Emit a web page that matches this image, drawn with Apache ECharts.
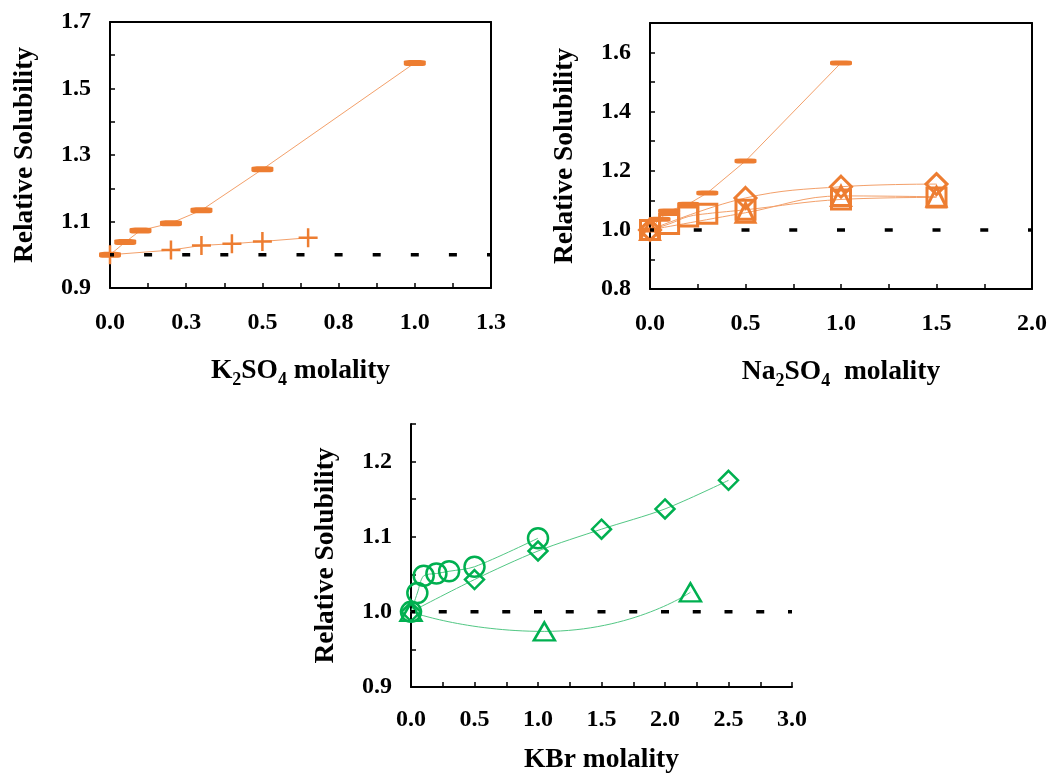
<!DOCTYPE html>
<html>
<head>
<meta charset="utf-8">
<script src="https://cdn.jsdelivr.net/npm/echarts@6/dist/echarts.min.js"></script>
<style>
html,body{margin:0;padding:0;background:#fff;}
#c{width:1049px;height:774px;}
</style>
</head>
<body>
<div id="c"></div>
<script>
// ---------- Panel A : K2SO4 ----------
const aDashX = [0, 0.05, 0.1, 0.2, 0.3, 0.5, 1.0];
const aDashY = [1.0, 1.038, 1.073, 1.095, 1.134, 1.257, 1.577];
const aPlusX = [0, 0.2, 0.3, 0.4, 0.5, 0.65];
const aPlusY = [1.0, 1.014, 1.028, 1.033, 1.040, 1.051];
const aXTicks = ['0.0', '', '0.3', '', '0.5', '', '0.8', '', '1.0', '', '1.3'];
const aYTicks = ['0.9', '', '1.1', '', '1.3', '', '1.5', '', '1.7'];

// ---------- Panel B : Na2SO4 ----------
const bDashX = [0, 0.05, 0.1, 0.2, 0.3, 0.5, 1.0];
const bDashY = [1.0, 1.036, 1.064, 1.087, 1.125, 1.233, 1.565];
const bDiamX = [0, 0.5, 1.0, 1.5];
const bDiamY = [1.0, 1.108, 1.146, 1.155];
const bSqX = [0, 0.1, 0.2, 0.3, 0.5, 1.0, 1.5];
const bSqY = [1.0, 1.02, 1.045, 1.055, 1.068, 1.103, 1.11];
const bTriX = [0, 0.5, 1.0, 1.5];
const bTriY = [1.0, 1.058, 1.115, 1.112];
const bXTicks = ['0.0', '', '0.5', '', '1.0', '', '1.5', '', '2.0'];
const bYTicks = ['0.8', '', '1.0', '', '1.2', '', '1.4', '', '1.6', ''];

// ---------- Panel C : KBr ----------
const cCircX = [0, 0.05, 0.1, 0.2, 0.3, 0.5, 1.0];
const cCircY = [1.0, 1.025, 1.048, 1.051, 1.054, 1.06, 1.098];
const cDiamX = [0, 0.5, 1.0, 1.5, 2.0, 2.5];
const cDiamY = [1.0, 1.043, 1.081, 1.11, 1.137, 1.175];
const cTriX = [0, 1.05, 2.2];
const cTriY = [1.0, 0.974, 1.026];
const cXTicks = ['0.0', '', '0.5', '', '1.0', '', '1.5', '', '2.0', '', '2.5', '', '3.0'];
const cYTicks = ['0.9', '', '1.0', '', '1.1', '', '1.2', ''];

const refY = 1.0;

const ORANGE = '#ED7D31';
const ORANGE_LINE = '#F3A06A';
const GREEN = '#00B050';
const GREEN_LINE = '#52C784';
const FONT = 'Liberation Serif';

function zip(xs, ys) { return xs.map((x, i) => [x, ys[i]]); }

function valAxis(gridIndex, min, max, interval, labels, pos, margin, extra) {
  return Object.assign({
    type: 'value', gridIndex, min, max, interval, position: pos,
    splitLine: { show: false },
    axisLine: { show: true, onZero: false, lineStyle: { color: '#000', width: 2 } },
    axisTick: { show: true, inside: true, length: 5, lineStyle: { color: '#000', width: 1.5 } },
    axisLabel: {
      show: true, margin: margin, color: '#000', fontFamily: FONT, fontWeight: 'bold', fontSize: 24,
      formatter: v => { const k = Math.round((v - min) / interval); return labels[k] || ''; }
    }
  }, extra || {});
}

function frameAxis(gridIndex, min, max, pos) {
  return {
    type: 'value', gridIndex, min, max, position: pos,
    splitLine: { show: false },
    axisLine: { show: true, onZero: false, lineStyle: { color: '#000', width: 2 } },
    axisTick: { show: false }, axisLabel: { show: false }
  };
}

const yName = {
  name: 'Relative Solubility', nameLocation: 'middle', nameRotate: 90, nameGap: 71,
  nameTextStyle: { color: '#000', fontFamily: FONT, fontWeight: 'bold', fontSize: 27.5 }
};

function xName(rich, gap) {
  return {
    name: rich, nameLocation: 'middle', nameGap: gap,
    nameTextStyle: {
      color: '#000', fontFamily: FONT, fontWeight: 'bold', fontSize: 27.5,
      rich: {
        b: { fontFamily: FONT, fontWeight: 'bold', fontSize: 27.5, lineHeight: 28, verticalAlign: 'top', color: '#000' },
        s: { fontFamily: FONT, fontWeight: 'bold', fontSize: 18, lineHeight: 18, verticalAlign: 'top', padding: [14, 0, 0, 0], color: '#000' }
      }
    }
  };
}

function refLine(xi, yi, xmax, gap) {
  return {
    type: 'line', xAxisIndex: xi, yAxisIndex: yi, data: [[0, refY], [xmax, refY]],
    symbol: 'none', z: 10, silent: true,
    lineStyle: { color: '#000', width: 3.5, type: [8, gap], dashOffset: 4 }
  };
}

const PLUS = 'path://M0,10L20,10M10,0L10,20';

function ser(xi, yi, xs, ys, o) {
  return {
    type: 'line', xAxisIndex: xi, yAxisIndex: yi, data: zip(xs, ys),
    symbol: o.symbol, symbolSize: o.size, smooth: o.smooth || false, z: 3,
    lineStyle: { color: o.lineColor, width: 1 },
    itemStyle: o.filled
      ? { color: o.color, borderWidth: 0 }
      : { color: 'rgba(0,0,0,0)', borderColor: o.color, borderWidth: o.bw || 2.5 }
  };
}

const option = {
  animation: false,
  backgroundColor: '#fff',
  grid: [
    { left: 110, top: 22, width: 381, height: 266, outerBoundsMode: 'none', containLabel: false },
    { left: 650, top: 23, width: 382, height: 266, outerBoundsMode: 'none', containLabel: false },
    { left: 411, top: 424, width: 381, height: 263, outerBoundsMode: 'none', containLabel: false }
  ],
  xAxis: [
    valAxis(0, 0, 1.25, 0.125, aXTicks, 'bottom', 23, xName('{b|K}{s|2}{b|SO}{s|4}{b| molality}', 69)),
    frameAxis(0, 0, 1.25, 'top'),
    valAxis(1, 0, 2.0, 0.25, bXTicks, 'bottom', 23, xName('{b|Na}{s|2}{b|SO}{s|4}{b|  molality}', 69)),
    frameAxis(1, 0, 2.0, 'top'),
    valAxis(2, 0, 3.0, 0.25, cXTicks, 'bottom', 21, xName('{b|KBr molality}', 59))
  ],
  yAxis: [
    valAxis(0, 0.9, 1.7, 0.1, aYTicks, 'left', 19, yName),
    frameAxis(0, 0.9, 1.7, 'right'),
    valAxis(1, 0.8, 1.7, 0.1, bYTicks, 'left', 19, yName),
    frameAxis(1, 0.8, 1.7, 'right'),
    valAxis(2, 0.9, 1.25, 0.05, cYTicks, 'left', 19, yName)
  ],
  series: [
    refLine(0, 0, 1.25, 30.1),
    ser(0, 0, aDashX, aDashY, { symbol: 'roundRect', size: [22, 6], filled: true, color: ORANGE, lineColor: ORANGE_LINE }),
    ser(0, 0, aPlusX, aPlusY, { symbol: PLUS, size: 19, color: ORANGE, lineColor: ORANGE_LINE, bw: 2.5 }),

    refLine(2, 2, 2.0, 39.75),
    ser(2, 2, bDashX, bDashY, { symbol: 'roundRect', size: [22, 5], filled: true, color: ORANGE, lineColor: ORANGE_LINE }),
    ser(2, 2, bDiamX, bDiamY, { symbol: 'diamond', size: 21, color: ORANGE, lineColor: ORANGE_LINE, smooth: 0.4, bw: 3 }),
    ser(2, 2, bSqX, bSqY, { symbol: 'rect', size: 19, color: ORANGE, lineColor: ORANGE_LINE, smooth: 0.4, bw: 3 }),
    ser(2, 2, bTriX, bTriY, { symbol: 'triangle', size: [19, 19], color: ORANGE, lineColor: ORANGE_LINE, smooth: 0.4, bw: 3 }),

    refLine(4, 4, 3.0, 23.75),
    ser(4, 4, cCircX, cCircY, { symbol: 'circle', size: 20, color: GREEN, lineColor: GREEN_LINE, smooth: 0.3 }),
    ser(4, 4, cDiamX, cDiamY, { symbol: 'diamond', size: 19, color: GREEN, lineColor: GREEN_LINE, smooth: 0.3 }),
    ser(4, 4, cTriX, cTriY, { symbol: 'triangle', size: [21, 18], color: GREEN, lineColor: GREEN_LINE, smooth: 0.6 })
  ]
};

const chart = echarts.init(document.getElementById('c'), null, { renderer: 'canvas' });
chart.setOption(option);
</script>
</body>
</html>
